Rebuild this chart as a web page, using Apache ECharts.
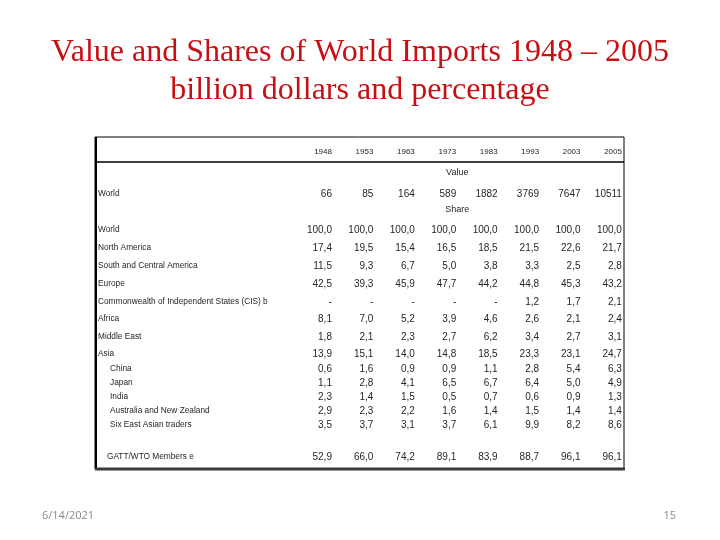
<!DOCTYPE html>
<html>
<head>
<meta charset="utf-8">
<script src="https://cdn.jsdelivr.net/npm/echarts@6/dist/echarts.min.js"></script>
<style>html,body{margin:0;padding:0;background:#fff;}#main{width:720px;height:540px;}</style>
</head>
<body>
<div id="main"></div>
<script>
// ---------- DATA ----------
const years = ['1948', '1953', '1963', '1973', '1983', '1993', '2003', '2005'];
const worldValue = [66, 85, 164, 589, 1882, 3769, 7647, 10511];
const shareWorld = [100.0, 100.0, 100.0, 100.0, 100.0, 100.0, 100.0, 100.0];
const shareNorthAmerica = [17.4, 19.5, 15.4, 16.5, 18.5, 21.5, 22.6, 21.7];
const shareSouthCentralAmerica = [11.5, 9.3, 6.7, 5.0, 3.8, 3.3, 2.5, 2.8];
const shareEurope = [42.5, 39.3, 45.9, 47.7, 44.2, 44.8, 45.3, 43.2];
const shareCIS = [null, null, null, null, null, 1.2, 1.7, 2.1];
const shareAfrica = [8.1, 7.0, 5.2, 3.9, 4.6, 2.6, 2.1, 2.4];
const shareMiddleEast = [1.8, 2.1, 2.3, 2.7, 6.2, 3.4, 2.7, 3.1];
const shareAsia = [13.9, 15.1, 14.0, 14.8, 18.5, 23.3, 23.1, 24.7];
const shareChina = [0.6, 1.6, 0.9, 0.9, 1.1, 2.8, 5.4, 6.3];
const shareJapan = [1.1, 2.8, 4.1, 6.5, 6.7, 6.4, 5.0, 4.9];
const shareIndia = [2.3, 1.4, 1.5, 0.5, 0.7, 0.6, 0.9, 1.3];
const shareAustraliaNZ = [2.9, 2.3, 2.2, 1.6, 1.4, 1.5, 1.4, 1.4];
const shareSixEastAsian = [3.5, 3.7, 3.1, 3.7, 6.1, 9.9, 8.2, 8.6];
const shareGattWto = [52.9, 66.0, 74.2, 89.1, 83.9, 88.7, 96.1, 96.1];

const titleLines = ['Value and Shares of World Imports 1948 – 2005', 'billion dollars and percentage'];
const footerDate = '6/14/2021';
const footerPage = '15';
const sectionLabels = ['Value', 'Share'];
const rowLabels = ['World', 'World', 'North America', 'South and Central America', 'Europe',
  'Commonwealth of Independent States (CIS) b', 'Africa', 'Middle East', 'Asia',
  'China', 'Japan', 'India', 'Australia and New Zealand', 'Six East Asian traders',
  'GATT/WTO Members e'];
const rowSeries = [worldValue, shareWorld, shareNorthAmerica, shareSouthCentralAmerica, shareEurope,
  shareCIS, shareAfrica, shareMiddleEast, shareAsia, shareChina, shareJapan, shareIndia,
  shareAustraliaNZ, shareSixEastAsian, shareGattWto];

// ---------- LAYOUT (positions / styles only) ----------
const headerY = 15;
const sectionY = [36, 73];
const rowY = [57, 93, 111, 129, 147, 165, 182, 200, 217, 232, 246, 260, 274, 288, 320];
const rowIndent = [3, 3, 3, 3, 3, 3, 3, 3, 3, 15, 15, 15, 15, 15, 12];
const headerLineY = 25;
const X_MIN = -5.72, X_MAX = 7.05;
const textColor = '#262626';

function fmt(v, isInt) {
  if (v == null) return '-';
  return isInt ? String(v) : v.toFixed(1).replace('.', ',');
}

const cellData = [], cellText = [];
rowSeries.forEach((arr, r) => {
  arr.forEach((v, c) => {
    cellData.push([c, rowY[r]]);
    cellText.push(fmt(v, r === 0));
  });
});
const headerData = years.map((y, c) => [c, headerY]);
const labelData = rowLabels.map((l, r) => [X_MIN, rowY[r]]);
const sectionData = sectionLabels.map((s, i) => [3, sectionY[i]]);

function textItem(p, text, align, font) {
  return {
    type: 'text',
    x: p[0], y: p[1],
    style: { text: text, align: align, textAlign: align, verticalAlign: 'middle', textVerticalAlign: 'middle', font: font, fill: textColor }
  };
}

const titleStyle = { fontFamily: 'Liberation Serif', fontSize: 32, fontWeight: 'normal', color: '#c80f14' };
const footStyle = { fontFamily: 'Open Sans', fontSize: 11, fontWeight: 'normal', color: '#8a8a8a' };

const chart = echarts.init(document.getElementById('main'), null, { renderer: 'canvas' });
chart.setOption({
  backgroundColor: '#fff',
  animation: false,
  title: [
    { text: titleLines[0], left: 'center', top: 37, padding: 0, textStyle: titleStyle },
    { text: titleLines[1], left: 'center', top: 75, padding: 0, textStyle: titleStyle },
    { text: footerDate, left: 42, top: 510, padding: 0, textStyle: footStyle },
    { text: footerPage, right: 44, top: 510, padding: 0, textStyle: footStyle }
  ],
  grid: { left: 95, top: 137, width: 529, height: 332, show: true, borderColor: '#000', borderWidth: 1, backgroundColor: '#fff' },
  xAxis: { type: 'value', min: X_MIN, max: X_MAX, show: false },
  yAxis: { type: 'value', min: 0, max: 332, inverse: true, show: false },
  graphic: [
    { type: 'line', shape: { x1: 96, y1: 137, x2: 96, y2: 469 }, style: { stroke: '#000', lineWidth: 2 }, z: 100 },
    { type: 'line', shape: { x1: 95, y1: 469, x2: 625, y2: 469 }, style: { stroke: '#3a3a3a', lineWidth: 3 }, z: 100 }
  ],
  series: [
    {
      type: 'custom', name: 'cells', data: cellData, encode: { x: 0, y: 1 },
      renderItem: function (params, api) {
        const p = api.coord([api.value(0), api.value(1)]);
        return textItem(p, cellText[params.dataIndex], 'right', '10px "Liberation Sans", Arial, sans-serif');
      },
      markLine: {
        silent: true, symbol: 'none', label: { show: false },
        lineStyle: { color: '#000', width: 1.5, type: 'solid' },
        data: [{ yAxis: headerLineY }]
      }
    },
    {
      type: 'custom', name: 'headers', data: headerData, encode: { x: 0, y: 1 },
      renderItem: function (params, api) {
        const p = api.coord([api.value(0), api.value(1)]);
        return textItem(p, years[params.dataIndex], 'right', '8px "Liberation Sans", Arial, sans-serif');
      }
    },
    {
      type: 'custom', name: 'sections', data: sectionData, encode: { x: 0, y: 1 },
      renderItem: function (params, api) {
        const p = api.coord([api.value(0), api.value(1)]);
        return textItem([p[0] + 1, p[1]], sectionLabels[params.dataIndex], 'center', '9px "Liberation Sans", Arial, sans-serif');
      }
    },
    {
      type: 'custom', name: 'labels', data: labelData, encode: { x: 0, y: 1 },
      renderItem: function (params, api) {
        const p = api.coord([api.value(0), api.value(1)]);
        return textItem([p[0] + rowIndent[params.dataIndex], p[1]], rowLabels[params.dataIndex], 'left', '8.3px "Liberation Sans", Arial, sans-serif');
      }
    }
  ]
});
</script>
</body>
</html>
